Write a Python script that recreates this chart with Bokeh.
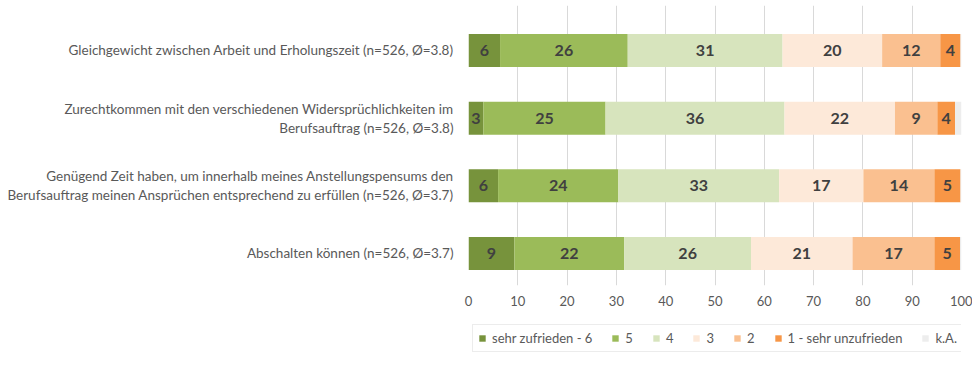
import numpy as np
import pandas as pd
from bokeh.plotting import figure
from bokeh.layouts import column
from bokeh.models import Range1d, FixedTicker, Legend, LegendItem, ColumnDataSource
from bokeh.embed import file_html
from bokeh.resources import INLINE
from bokeh.core.properties import value

# ---------------- data ----------------
categories = [
    "Gleichgewicht zwischen Arbeit und Erholungszeit (n=526, Ø=3.8)",
    "Zurechtkommen mit den verschiedenen Widersprüchlichkeiten im\nBerufsauftrag (n=526, Ø=3.8)",
    "Genügend Zeit haben, um innerhalb meines Anstellungspensums den\nBerufsauftrag meinen Ansprüchen entsprechend zu erfüllen (n=526, Ø=3.7)",
    "Abschalten können (n=526, Ø=3.7)",
]
series_names = ["sehr zufrieden - 6", "5", "4", "3", "2", "1 - sehr unzufrieden", "k.A."]

sehr_zufrieden_6 = [6.4, 3.0, 6.0, 9.3]
val_5 = [25.9, 24.8, 24.4, 22.3]
val_4 = [31.4, 36.3, 32.6, 25.7]
val_3 = [20.2, 22.4, 17.1, 20.6]
val_2 = [11.8, 8.6, 14.4, 16.6]
sehr_unzufrieden_1 = [4.1, 3.6, 5.3, 5.2]
k_a = [0.2, 1.3, 0.2, 0.3]

x_ticks = [0, 10, 20, 30, 40, 50, 60, 70, 80, 90, 100]

colors = ["#77933C", "#9BBB59", "#D7E4BD", "#FDE9D9", "#FAC090", "#F79646", "#EDEDED"]

# ---------------- build ----------------
series_values = [sehr_zufrieden_6, val_5, val_4, val_3, val_2, sehr_unzufrieden_1, k_a]
keys = [f"s{i}" for i in range(len(series_values))]
n = len(categories)
ypos = list(range(n - 1, -1, -1))

df = pd.DataFrame({k: v for k, v in zip(keys, series_values)})
df["y"] = ypos
source = ColumnDataSource(df)

FONT = "Lato"
GRAY = "#595959"

p = figure(frame_width=493, frame_height=280, output_backend="svg", toolbar_location=None,
           x_range=Range1d(0, 100), y_range=Range1d(-0.473, 3.665),
           min_border_left=468, min_border_right=11, min_border_top=5, min_border_bottom=26)
p.outline_line_color = None
p.background_fill_color = "white"
p.border_fill_color = "white"

renderers = p.hbar_stack(keys, y="y", height=0.488, color=colors, source=source, line_color=None)

# value labels
cum = df[keys].cumsum(axis=1)
for i, k in enumerate(keys[:-1]):
    mids = cum[k] - df[k] / 2.0
    texts = [str(int(round(v))) for v in df[k]]
    p.text(x=list(mids), y=ypos, text=texts, text_align="center", text_baseline="middle",
           text_font=value(FONT), text_font_style="bold", text_font_size="16px",
           text_color="#404040")

# axes
p.xaxis.ticker = FixedTicker(ticks=x_ticks)
p.xaxis.axis_line_color = None
p.xaxis.major_tick_line_color = None
p.xaxis.minor_tick_line_color = None
p.xaxis.major_tick_out = 0
p.xaxis.major_tick_in = 0
p.xaxis.major_label_standoff = 10
p.xaxis.major_label_text_font = FONT
p.xaxis.major_label_text_font_size = "13px"
p.xaxis.major_label_text_color = GRAY

p.yaxis.ticker = FixedTicker(ticks=ypos)
p.yaxis.major_label_overrides = {y: c for y, c in zip(ypos, categories)}
p.yaxis.axis_line_color = None
p.yaxis.major_tick_line_color = None
p.yaxis.minor_tick_line_color = None
p.yaxis.major_tick_out = 0
p.yaxis.major_tick_in = 0
p.yaxis.major_label_standoff = 15
p.yaxis.major_label_text_font = FONT
p.yaxis.major_label_text_font_size = "13.5px"
p.yaxis.major_label_text_color = GRAY

p.ygrid.visible = False
p.xgrid.grid_line_color = "#D9D9D9"
p.xgrid.ticker = FixedTicker(ticks=x_ticks)

# ---------------- legend strip (own small figure) ----------------
# same stacked series drawn here only to feed the legend swatches; the view
# range is set so the bars themselves stay outside this strip's frame
lg = figure(width=972, height=56, output_backend="svg", toolbar_location=None,
            x_range=Range1d(0, 100), y_range=Range1d(100, 101),
            x_axis_type=None, y_axis_type=None,
            min_border_left=0, min_border_right=0, min_border_top=0, min_border_bottom=0)
lg.outline_line_color = None
lg.grid.visible = False
lg.background_fill_color = "white"
lg.border_fill_color = "white"

swatches = lg.hbar_stack(keys, y="y", height=0.488, color=colors, source=source, line_color=None)

legend = Legend(
    items=[LegendItem(label=nm, renderers=[r]) for nm, r in zip(series_names, swatches)],
    orientation="horizontal", location=(4, 15),
    border_line_color="#D9D9D9", border_line_width=1,
    glyph_width=8, glyph_height=8, label_standoff=6, spacing=19,
    label_width=1, label_height=14,
    padding=5, margin=0,
    label_text_font=FONT, label_text_font_size="13px", label_text_color=GRAY,
)
lg.add_layout(legend, "center")

layout = column(p, lg, spacing=0)
open("out.html", "w").write(file_html(layout, INLINE))
